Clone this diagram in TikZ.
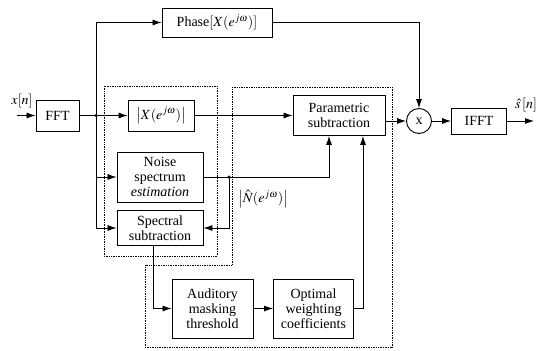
\documentclass[tikz,border=0pt]{standalone}
\usepackage{mathptmx}
\usepackage{fontspec}
\setmainfont{Liberation Serif}
\usetikzlibrary{arrows.meta}

\begin{document}
\begin{tikzpicture}[
    x=1pt, y=-1pt,
    font=\fontsize{14}{15}\selectfont,
    blk/.style={draw, line width=0.9pt, align=center, inner sep=1pt},
    wire/.style={line width=0.8pt},
    arr/.style={wire, -{Latex[length=9pt, width=6pt]}},
    frame/.style={densely dotted, line width=0.7pt},
    ]
    \useasboundingbox (0,0) rectangle (542,351);

    % Row 1: phase path
    \node[blk, minimum width=110pt, minimum height=29pt] (phase) at (217,22.5) {Phase$[X(e^{j\omega})]$};

    % Row 2: main path
    \coordinate (in) at (17,115.5);
    \node[blk, minimum width=43pt, minimum height=31pt] (fft) at (57.5,115.5) {FFT};
    \coordinate (br1) at (96,115.5);
    \node[blk, minimum width=66pt, minimum height=31pt] (mag) at (161,115.5) {$\left|X(e^{j\omega})\right|$};
    \node[blk, minimum width=92pt, minimum height=40pt] (param) at (339,115.5) {Parametric\\subtraction};
    \node[draw, circle, line width=0.9pt, minimum size=25pt, inner sep=0pt] (mult) at (419,121) {x};
    \node[blk, minimum width=55pt, minimum height=26pt] (ifft) at (479,121) {IFFT};
    \coordinate (out) at (534,121);

    % Row 3: noise estimate
    \node[blk, minimum width=86pt, minimum height=50pt] (noise) at (160,177) {Noise\\spectrum\\\textit{estimation}};
    \coordinate (br2) at (229,177);
    \node[blk, minimum width=86pt, minimum height=35pt] (spec) at (160,228) {Spectral\\subtraction};

    % Row 4: weighting
    \node[blk, minimum width=81pt, minimum height=59pt] (aud) at (212.5,308.5) {Auditory\\masking\\threshold};
    \node[blk, minimum width=80pt, minimum height=59pt] (opt) at (313.5,308.5) {Optimal\\weighting\\coefficients};

    % Labels
    \node (xlbl) at (22,101) {$x[n]$};
    \node (slbl) at (526,105) {$\hat{s}\,[n]$};
    \node (nlbl) at (263,199) {$\left|\hat{N}(e^{j\omega})\right|$};

    % Dotted groups
    \draw[frame] (104,86) rectangle (217,256);
    \draw[frame] (232,87) -- (392,87) -- (392,347) -- (145,347) -- (145,265) -- (232,265) -- cycle;

    % Edges
    \draw[arr] (in) -- (fft);
    \draw[arr] (fft) -- (mag);
    \draw[arr] (br1) |- (phase);
    \draw[arr] (br1) |- (noise);
    \draw[arr] (br1) |- (spec);
    \draw[arr] (mag) -- (mag -| param.west);
    \draw[arr] (phase) -| (mult);
    \draw[arr] (mult -| param.east) -- (mult);
    \draw[arr] (mult) -- (ifft);
    \draw[arr] (ifft) -- (out);
    \draw[arr] (noise) -| ([xshift=-10pt]param.south);
    \draw[arr] (br2) |- (spec);
    \draw[arr] ([xshift=-7pt]spec.south) |- (aud);
    \draw[arr] (aud) -- (opt);
    \draw[arr] (opt) -| ([xshift=24pt]param.south);
    \fill (br1) circle (1.6pt);
    \fill (br2) circle (1.6pt);
  \end{tikzpicture}
\end{document}
